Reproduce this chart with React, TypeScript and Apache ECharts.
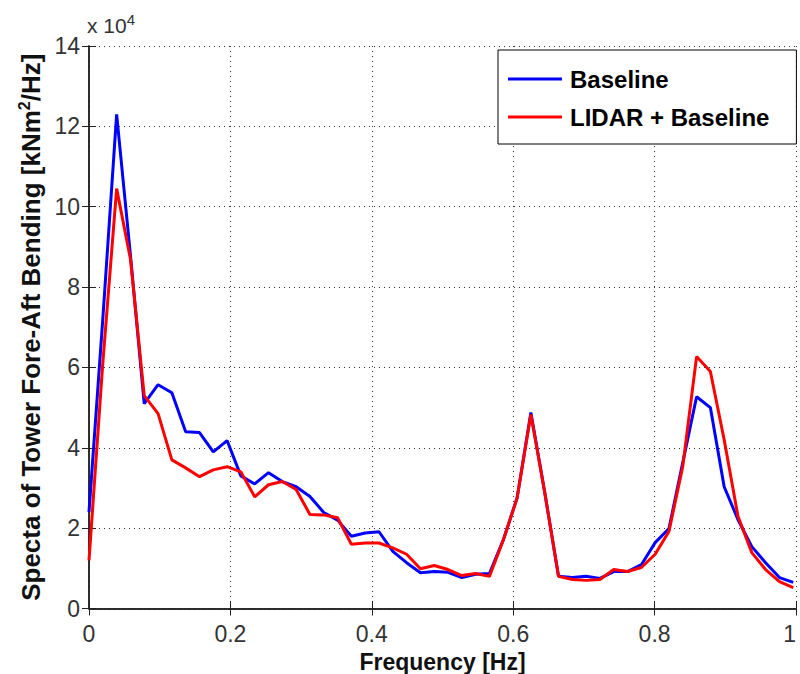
import React, { useEffect, useRef } from "react";
import * as echarts from "echarts";

const frequencies = [
  0, 0.0195, 0.0391, 0.0586, 0.0781, 0.0977, 0.1172, 0.1367, 0.1563, 0.1758,
  0.1953, 0.2148, 0.2344, 0.2539, 0.2734, 0.293, 0.3125, 0.332, 0.3516, 0.3711,
  0.3906, 0.4102, 0.4297, 0.4492, 0.4688, 0.4883, 0.5078, 0.5273, 0.5469, 0.5664,
  0.5859, 0.6055, 0.625, 0.6445, 0.6641, 0.6836, 0.7031, 0.7227, 0.7422, 0.7617,
  0.7813, 0.8008, 0.8203, 0.8398, 0.8594, 0.8789, 0.8984, 0.918, 0.9375, 0.957,
  0.9766, 0.9961,
];

// values in units of 1e4 kNm^2/Hz
const baseline = [
  2.4, 7.2, 12.3, 8.8, 5.1, 5.57, 5.37, 4.4, 4.38, 3.9,
  4.18, 3.3, 3.1, 3.38, 3.16, 3.03, 2.79, 2.39, 2.2, 1.8,
  1.88, 1.91, 1.42, 1.14, 0.89, 0.92, 0.9, 0.77, 0.85, 0.87,
  1.7, 2.75, 4.88, 2.9, 0.8, 0.77, 0.8, 0.75, 0.92, 0.92,
  1.09, 1.64, 1.99, 3.63, 5.27, 5.0, 3.03, 2.21, 1.54, 1.14,
  0.77, 0.65,
];

const lidarBaseline = [
  1.2, 6.1, 10.45, 8.7, 5.3, 4.85, 3.7, 3.5, 3.28, 3.45,
  3.53, 3.4, 2.78, 3.08, 3.16, 2.96, 2.34, 2.33, 2.26, 1.6,
  1.63, 1.63, 1.51, 1.35, 0.99, 1.07, 0.97, 0.82, 0.87, 0.8,
  1.7, 2.75, 4.83, 2.9, 0.8, 0.72, 0.7, 0.72, 0.97, 0.92,
  1.02, 1.35, 1.92, 3.53, 6.27, 5.9, 4.2, 2.29, 1.39, 0.97,
  0.67, 0.52,
];

const seriesNames = ["Baseline", "LIDAR + Baseline"];
const xTicks = [0, 0.2, 0.4, 0.6, 0.8, 1];
const yTicks = [0, 2, 4, 6, 8, 10, 12, 14];

const tickFont = "'Liberation Sans', Arial, sans-serif";
const titleFont = "'Liberation Sans', Arial, sans-serif";

export default function App() {
  const ref = useRef<HTMLDivElement>(null);

  useEffect(() => {
    document.documentElement.style.overflow = "hidden";
    document.body.style.margin = "0";
    document.body.style.overflow = "hidden";
    if (!ref.current) return;
    const chart = echarts.init(ref.current, null, { renderer: "svg" });

    const gridLine = { show: true, lineStyle: { color: "#333", width: 1, type: [1, 4] as any } };
    const tickStyle = { show: true, inside: true, length: 7, lineStyle: { color: "#222", width: 1 } };
    const axisLine = { show: true, lineStyle: { color: "#222", width: 1.5 } };
    const labelStyle = { color: "#333", fontFamily: tickFont, fontSize: 23 };

    chart.setOption({
      animation: false,
      backgroundColor: "#fff",
      grid: { left: 89, right: 4, top: 46, bottom: 65.5, containLabel: false, outerBoundsMode: "none" },
      xAxis: [
        {
          type: "value",
          min: 0,
          max: 1,
          interval: 0.2,
          position: "bottom",
          axisLine,
          axisTick: tickStyle,
          splitLine: gridLine,
          axisLabel: {
            ...labelStyle,
            margin: 14,
            alignMaxLabel: "right",
            formatter: (v: number) => {
              const t = xTicks.find((x) => Math.abs(x - v) < 1e-6);
              return t === undefined ? "" : String(t);
            },
          },
          name: "Frequency [Hz]",
          nameLocation: "middle",
          nameGap: 39,
          nameTextStyle: { color: "#111", fontFamily: titleFont, fontSize: 23, fontWeight: "bold" },
        },
        {
          type: "value",
          min: 0,
          max: 1,
          interval: 0.2,
          position: "top",
          axisLine,
          axisTick: tickStyle,
          splitLine: { show: false },
          axisLabel: { show: false },
        },
      ],
      yAxis: [
        {
          type: "value",
          min: 0,
          max: 14,
          interval: 2,
          position: "left",
          axisLine,
          axisTick: tickStyle,
          splitLine: gridLine,
          axisLabel: {
            ...labelStyle,
            margin: 9,
            formatter: (v: number) => {
              const t = yTicks.find((y) => Math.abs(y - v) < 1e-6);
              return t === undefined ? "" : String(t);
            },
          },
          name: "Specta of Tower Fore-Aft Bending [kNm{sup|2}/Hz]",
          nameLocation: "middle",
          nameGap: 44,
          nameRotate: 90,
          nameTextStyle: {
            color: "#111",
            fontFamily: titleFont,
            fontSize: 26,
            fontWeight: "bold",
            rich: {
              sup: { fontFamily: titleFont, fontSize: 16, fontWeight: "bold", color: "#111", verticalAlign: "top", padding: [0, 0, 12, 0] },
            },
          },
        },
        {
          type: "value",
          min: 0,
          max: 14,
          interval: 2,
          position: "right",
          axisLine,
          axisTick: tickStyle,
          splitLine: { show: false },
          axisLabel: { show: false },
        },
      ],
      legend: {
        data: seriesNames,
        orient: "vertical",
        left: 498,
        top: 50,
        icon: "rect",
        itemWidth: 54,
        itemHeight: 3,
        itemGap: 14,
        padding: [17, 27, 15, 10],
        backgroundColor: "#fff",
        borderColor: "#000",
        borderWidth: 1,
        borderRadius: 0,
        textStyle: { color: "#000", fontFamily: titleFont, fontSize: 24, fontWeight: "bold", padding: [0, 0, 0, 3] },
      },
      graphic: [
        {
          type: "text",
          left: 87,
          top: 12,
          style: {
            text: "x 10{s|4}",
            fontFamily: tickFont,
            fontSize: 21,
            fill: "#333",
            rich: { s: { fontFamily: tickFont, fontSize: 15, fill: "#333", verticalAlign: "top", padding: [0, 0, 12, 0] } },
          } as any,
        },
      ],
      series: [
        {
          name: seriesNames[0],
          type: "line",
          xAxisIndex: 0,
          yAxisIndex: 0,
          data: frequencies.map((f, i) => [f, baseline[i]]),
          symbol: "none",
          showSymbol: false,
          lineStyle: { color: "#0000ff", width: 3 },
          itemStyle: { color: "#0000ff" },
          z: 3,
        },
        {
          name: seriesNames[1],
          type: "line",
          xAxisIndex: 0,
          yAxisIndex: 0,
          data: frequencies.map((f, i) => [f, lidarBaseline[i]]),
          symbol: "none",
          showSymbol: false,
          lineStyle: { color: "#ff0000", width: 3 },
          itemStyle: { color: "#ff0000" },
          z: 4,
        },
      ],
    });

    return () => chart.dispose();
  }, []);

  return (
    <div
      ref={ref}
      style={{ position: "absolute", left: 0, top: 0, width: 800, height: 674, background: "#fff" }}
    />
  );
}
